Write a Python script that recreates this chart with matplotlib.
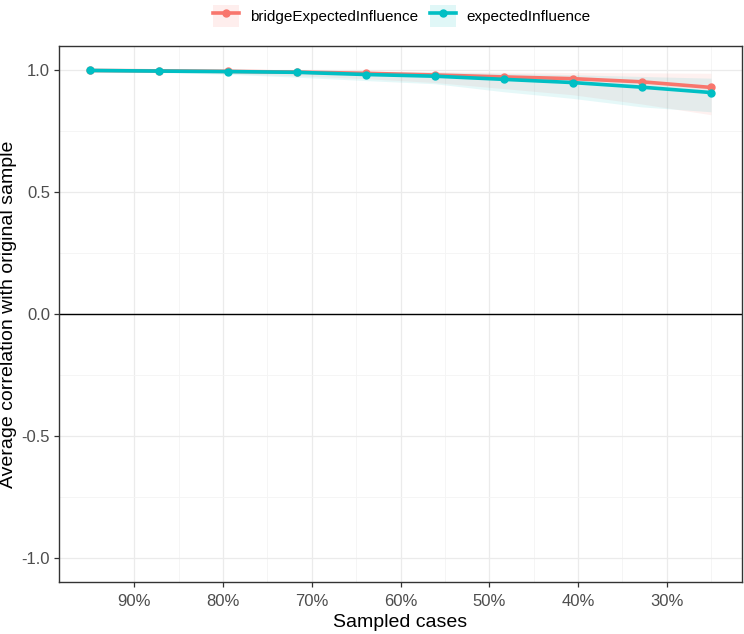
import matplotlib
matplotlib.use("Agg")
import matplotlib.pyplot as plt
from matplotlib.lines import Line2D
from matplotlib.patches import Patch
from matplotlib.legend_handler import HandlerTuple
from matplotlib.ticker import FuncFormatter

plt.rcParams["font.family"] = ["Liberation Sans", "DejaVu Sans"]

# sampled proportion of cases (bootnet case-drop)
case_prop = [0.95, 0.872, 0.794, 0.717, 0.639, 0.561, 0.483, 0.406, 0.328, 0.25]

bei_mean = [0.9995, 0.998, 0.996, 0.993, 0.988, 0.981, 0.973, 0.966, 0.953, 0.930]
bei_lo = [0.998, 0.993, 0.987, 0.978, 0.966, 0.950, 0.925, 0.900, 0.862, 0.818]
bei_hi = [1.0, 1.0, 0.999, 0.998, 0.997, 0.995, 0.993, 0.991, 0.990, 0.988]

ei_mean = [0.9995, 0.997, 0.995, 0.992, 0.983, 0.976, 0.963, 0.950, 0.931, 0.909]
ei_lo = [0.997, 0.991, 0.984, 0.972, 0.958, 0.945, 0.912, 0.885, 0.850, 0.830]
ei_hi = [1.0, 1.0, 0.999, 0.998, 0.996, 0.993, 0.988, 0.982, 0.975, 0.968]

series = [
    ("bridgeExpectedInfluence", bei_mean, bei_lo, bei_hi, "#F8766D"),
    ("expectedInfluence", ei_mean, ei_lo, ei_hi, "#00BFC4"),
]

x_ticks = [0.9, 0.8, 0.7, 0.6, 0.5, 0.4, 0.3]
x_minor = [0.85, 0.75, 0.65, 0.55, 0.45, 0.35, 0.25]
y_ticks = [-1.0, -0.5, 0.0, 0.5, 1.0]
y_minor = [-0.75, -0.25, 0.25, 0.75]

W, H = 744, 634
fig = plt.figure(figsize=(W / 100, H / 100), dpi=100)
ax = fig.add_axes([59 / W, (H - 582) / H, (742 - 59) / W, (582 - 46) / H])

for name, mean, lo, hi, color in series:
    ax.fill_between(case_prop, lo, hi, color=color, alpha=0.1, linewidth=0, zorder=2)
for name, mean, lo, hi, color in series:
    ax.plot(case_prop, mean, color=color, lw=2.6, marker="o", markersize=5, zorder=3)

ax.axhline(0, color="black", lw=1.0, zorder=2.5)

ax.set_xlim(0.985, 0.215)
ax.set_ylim(-1.1, 1.1)
ax.set_xticks(x_ticks)
ax.set_xticks(x_minor, minor=True)
ax.set_yticks(y_ticks)
ax.set_yticks(y_minor, minor=True)
ax.xaxis.set_major_formatter(FuncFormatter(lambda v, p: f"{round(v * 100)}%"))
ax.yaxis.set_major_formatter(FuncFormatter(lambda v, p: f"{v:.1f}"))

ax.grid(which="major", color="#EBEBEB", lw=0.9, zorder=0)
ax.grid(which="minor", color="#F4F4F4", lw=0.6, zorder=0)
ax.set_axisbelow(True)
for sp in ax.spines.values():
    sp.set_color("#333333")
    sp.set_linewidth(1.0)

ax.tick_params(which="major", length=3.5, width=0.9, color="#333333",
               labelcolor="#4D4D4D", labelsize=12, pad=3)
ax.tick_params(axis="x", which="major", pad=5)
ax.tick_params(which="minor", length=0)

ax.set_xlabel("Sampled cases", fontsize=14, labelpad=4)
ax.set_ylabel("Average correlation with original sample", fontsize=14, labelpad=3)

handles = []
labels = []
for name, mean, lo, hi, color in series:
    bg = Patch(facecolor=color, alpha=0.12, edgecolor="none")
    ln = Line2D([], [], color=color, lw=2.6, marker="o", markersize=5)
    handles.append((bg, ln))
    labels.append(name)

fig.legend(handles, labels, loc="center", bbox_to_anchor=(402 / W, 1 - 16 / H), ncol=2,
           frameon=False, fontsize=11, handlelength=1.7, handleheight=1.9,
           handletextpad=0.7, columnspacing=0.8,
           handler_map={tuple: HandlerTuple(ndivide=1, pad=0)})

fig.savefig("out.png", dpi=100)
